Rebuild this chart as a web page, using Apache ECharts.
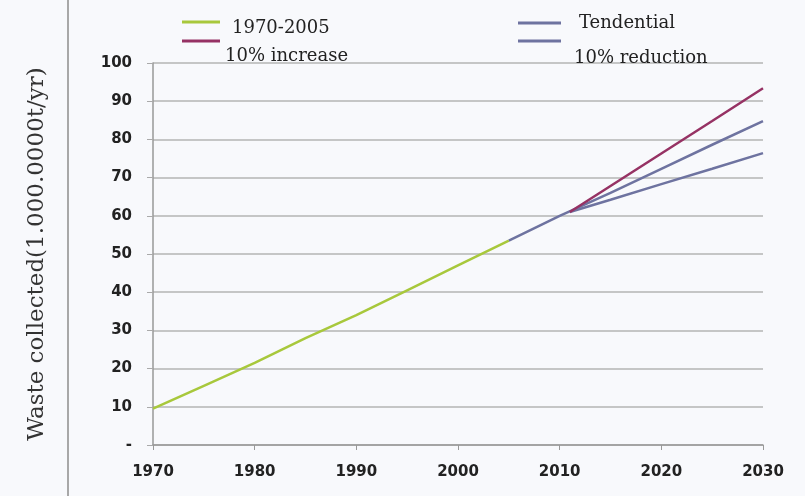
<!DOCTYPE html>
<html>
<head>
<meta charset="utf-8">
<script src="https://cdn.jsdelivr.net/npm/echarts@6/dist/echarts.min.js"></script>
<style>
  html, body { margin: 0; padding: 0; background: #f8f9fc; }
  #chart { width: 805px; height: 496px; }
</style>
</head>
<body>
<div id="chart"></div>
<script>
// values
const years = [1970, 1980, 1990, 2000, 2010, 2020, 2030];
const yTicks = [0, 10, 20, 30, 40, 50, 60, 70, 80, 90, 100];

const hist = [[1970, 9.5], [1975, 15.5], [1980, 21.5], [1985, 28], [1990, 34], [1995, 40.5], [2000, 47], [2005, 53.5]];
const tendential = [[2005, 53.5], [2010, 60], [2015, 66], [2020, 72.3], [2025, 78.6], [2030, 84.8]];
const increase = [[2011, 61], [2015, 67.8], [2020, 76.3], [2025, 84.8], [2030, 93.4]];
const reduction = [[2011, 61], [2015, 64.2], [2020, 68.3], [2025, 72.3], [2030, 76.4]];

const green = '#a8c83c';
const purple = '#963264';
const grey = '#6e73a0';
const serif = 'DejaVu Serif';

// one legend per entry so the text can sit below its line like in the original
function legendItem(name, left, top, width, padLeft, lineH, drop) {
  return {
    data: [name],
    left: left,
    top: top,
    icon: 'rect',
    itemWidth: width,
    itemHeight: 3,
    formatter: n => (drop ? '\n' + n : n),
    textStyle: {
      fontFamily: serif,
      fontSize: 18,
      color: '#222',
      lineHeight: lineH,
      padding: [0, 0, 0, padLeft]
    }
  };
}

const chart = echarts.init(document.getElementById('chart'));
chart.setOption({
  backgroundColor: '#f8f9fc',
  animation: false,
  grid: { left: 153, right: 42, top: 63, bottom: 51 },
  legend: [
    legendItem('1970-2005', 177, 2, 38, 7, 12, true),
    legendItem('10% increase', 177, 6, 38, 0, 30, true),
    legendItem('Tendential', 513, 8, 43, 13, 20, false),
    legendItem('10% reduction', 513, 2, 43, 8, 34, true)
  ],
  graphic: [{
    type: 'line',
    shape: { x1: 68, y1: 0, x2: 68, y2: 496 },
    style: { stroke: '#a8a8a8', lineWidth: 2 }
  }],
  xAxis: {
    type: 'value',
    min: years[0],
    max: years[years.length - 1],
    interval: 10,
    splitLine: { show: false },
    axisLine: { lineStyle: { color: '#999', width: 1.5 } },
    axisTick: { show: true, length: 5, lineStyle: { color: '#999' } },
    axisLabel: {
      margin: 20,
      fontFamily: 'DejaVu Sans',
      fontWeight: 'bold',
      fontSize: 15,
      color: '#222',
      formatter: v => String(v)
    }
  },
  yAxis: {
    type: 'value',
    min: yTicks[0],
    max: yTicks[yTicks.length - 1],
    interval: 10,
    name: 'Waste collected(1.000.0000t/yr)',
    nameLocation: 'middle',
    nameRotate: 90,
    nameGap: 104,
    nameTextStyle: { fontFamily: serif, fontSize: 23, color: '#333' },
    axisLine: { show: true, lineStyle: { color: '#999', width: 1.5 } },
    axisTick: { show: true, length: 6, lineStyle: { color: '#aaa' } },
    splitLine: { lineStyle: { color: '#b4b4b4', width: 1.5 } },
    axisLabel: {
      margin: 21,
      fontFamily: 'DejaVu Sans',
      fontWeight: 'bold',
      fontSize: 15,
      color: '#222',
      formatter: v => (v === 0 ? '-' : String(v))
    }
  },
  series: [
    {
      name: '1970-2005', type: 'line', data: hist, showSymbol: false,
      lineStyle: { color: green, width: 2.5 }, itemStyle: { color: green }
    },
    {
      name: 'Tendential', type: 'line', data: tendential, showSymbol: false,
      lineStyle: { color: grey, width: 2.5 }, itemStyle: { color: grey }
    },
    {
      name: '10% reduction', type: 'line', data: reduction, showSymbol: false,
      lineStyle: { color: grey, width: 2.5 }, itemStyle: { color: grey }
    },
    {
      name: '10% increase', type: 'line', data: increase, showSymbol: false,
      lineStyle: { color: purple, width: 2.5 }, itemStyle: { color: purple }
    }
  ]
});
</script>
</body>
</html>
